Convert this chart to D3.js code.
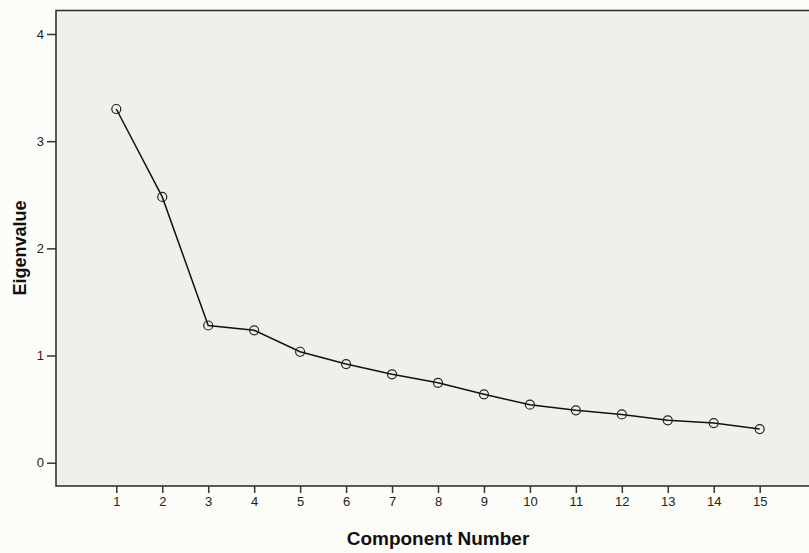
<!DOCTYPE html>
<html>
<head>
<meta charset="utf-8">
<script src="https://cdn.jsdelivr.net/npm/d3@7"></script>
<style>
body { margin: 0; background: #fcfcf8; }
svg { display: block; font-family: "Liberation Sans", Arial, sans-serif; }
</style>
</head>
<body>
<div id="graph"></div>
<script>
var components = [1,2,3,4,5,6,7,8,9,10,11,12,13,14,15]
var eigenvalues = [3.30, 2.48, 1.28, 1.235, 1.035, 0.92, 0.825, 0.745, 0.638, 0.541, 0.489, 0.450, 0.395, 0.370, 0.314]
var yTicks = [0, 1, 2, 3, 4]

var width = 809, height = 553
var plotLeft = 56, plotTop = 10.5, plotBottom = 486, plotRight = 812

var svg = d3.select('#graph').append('svg')
	.attr('width', width)
	.attr('height', height)

svg.append('rect')
	.attr('width', width).attr('height', height)
	.attr('fill', '#fcfcf8')

// x: tick 1 at 116.3, 15 at 759.7
var xScale = d3.scaleLinear()
	.domain([1, 15])
	.range([116.3, 759.7])

var yScale = d3.scaleLinear()
	.domain([0, 4])
	.range([462.7, 34])

svg.append('rect')
	.attr('x', plotLeft).attr('y', plotTop)
	.attr('width', plotRight - plotLeft).attr('height', plotBottom - plotTop)
	.attr('fill', '#f0efeb')
	.attr('stroke', '#333')
	.attr('stroke-width', 1.6)

var yAxis = svg.append('g')
	.attr('transform', 'translate(' + plotLeft + ',0)')
	.call(d3.axisLeft(yScale).tickValues(yTicks).tickSize(9).tickPadding(3).tickFormat(d3.format('d')))
yAxis.select('.domain').remove()

var xAxis = svg.append('g')
	.attr('transform', 'translate(0,' + plotBottom + ')')
	.call(d3.axisBottom(xScale).tickValues(components).tickSize(7).tickPadding(4).tickFormat(d3.format('d')))
xAxis.select('.domain').remove()

svg.selectAll('.tick line').attr('stroke', '#333').attr('stroke-width', 1.5)
svg.selectAll('.tick text').attr('fill', '#222').style('font-size', '13px')
	.style('font-family', '"Liberation Sans", Arial, sans-serif')

var line = d3.line()
	.x(function(d, i) { return xScale(components[i]) })
	.y(function(d) { return yScale(d) })

svg.append('path')
	.datum(eigenvalues)
	.attr('d', line)
	.attr('fill', 'none')
	.attr('stroke', '#111')
	.attr('stroke-width', 1.5)

svg.selectAll('circle.pt')
	.data(eigenvalues)
	.enter().append('circle')
	.attr('class', 'pt')
	.attr('cx', function(d, i) { return xScale(components[i]) })
	.attr('cy', function(d) { return yScale(d) })
	.attr('r', 4.5)
	.attr('fill', 'none')
	.attr('stroke', '#222')
	.attr('stroke-width', 1.2)

svg.append('text')
	.attr('x', 438).attr('y', 545)
	.attr('text-anchor', 'middle')
	.style('font-size', '19px').style('font-weight', 'bold')
	.attr('fill', '#111')
	.text('Component Number')

svg.append('text')
	.attr('transform', 'translate(26,248) rotate(-90)')
	.attr('text-anchor', 'middle')
	.style('font-size', '18px').style('font-weight', 'bold')
	.attr('fill', '#111')
	.text('Eigenvalue')
</script>
</body>
</html>
